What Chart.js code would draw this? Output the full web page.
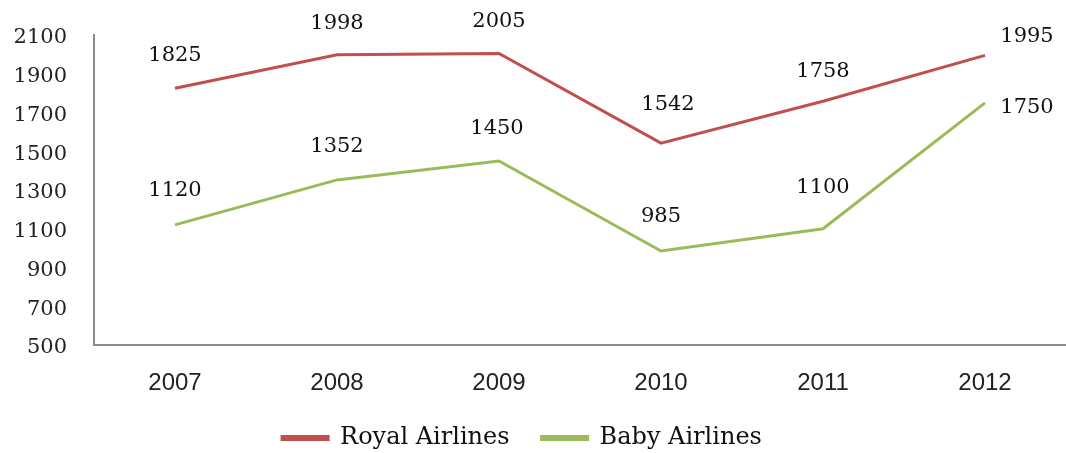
<!DOCTYPE html>
<html>
<head>
<meta charset="utf-8">
<script src="https://cdn.jsdelivr.net/npm/chart.js@4"></script>
<style>
html,body{margin:0;padding:0;background:#fff;}
#wrap{width:1066px;height:453px;position:relative;}
</style>
</head>
<body>
<div id="wrap"><canvas id="c" width="1066" height="453"></canvas></div>
<script>
const categories = ["2007", "2008", "2009", "2010", "2011", "2012"];
const royalAirlines = [1825, 1998, 2005, 1542, 1758, 1995];
const babyAirlines = [1120, 1352, 1450, 985, 1100, 1750];
const yTicks = [500, 700, 900, 1100, 1300, 1500, 1700, 1900, 2100];

const serif = "'DejaVu Serif', serif";
const sans = "'Liberation Sans', Arial, sans-serif";

// label placement relative to each point (styling only)
const labelOffsets = [
  [[0,-33],[0,-31],[0,-32],[7,-39],[0,-30],[42,-19]],
  [[0,-34],[0,-33],[-2,-32],[0,-34],[0,-41],[42,5]]
];

const dataLabels = {
  id: 'dataLabels',
  afterDatasetsDraw(chart) {
    const ctx = chart.ctx;
    ctx.save();
    ctx.font = "21px " + serif;
    ctx.fillStyle = "#111";
    ctx.textAlign = "center";
    ctx.textBaseline = "middle";
    chart.data.datasets.forEach((ds, di) => {
      const meta = chart.getDatasetMeta(di);
      meta.data.forEach((pt, i) => {
        const off = labelOffsets[di][i];
        ctx.fillText(String(ds.data[i]), pt.x + off[0], pt.y + off[1]);
      });
    });
    ctx.restore();
  }
};

const legendShift = {
  id: 'legendShift',
  afterLayout(chart) {
    if (chart.legend) { chart.legend.left -= 13; chart.legend.right -= 13; }
  }
};

new Chart(document.getElementById('c'), {
  type: 'line',
  data: {
    labels: categories,
    datasets: [
      { label: 'Royal Airlines', data: royalAirlines, borderColor: '#c0504d', backgroundColor: '#c0504d', borderWidth: 3, pointRadius: 0, tension: 0 },
      { label: 'Baby Airlines', data: babyAirlines, borderColor: '#9bbb59', backgroundColor: '#9bbb59', borderWidth: 3, pointRadius: 0, tension: 0 }
    ]
  },
  options: {
    responsive: false,
    animation: false,
    layout: { padding: { top: 35, right: -4, left: 0, bottom: 0 } },
    plugins: {
      legend: {
        position: 'bottom',
        maxHeight: 59,
        labels: {
          boxWidth: 46, boxHeight: 3, padding: 32,
          color: '#111',
          font: { family: serif, size: 24 }
        }
      },
      tooltip: { enabled: false }
    },
    scales: {
      x: {
        offset: true,
        grid: { display: false, drawTicks: false },
        border: { display: true, color: '#8c8c8c', width: 2 },
        ticks: { color: '#222', padding: 24, font: { family: sans, size: 24 } },
        afterFit(s) { s.height = 49; s.paddingLeft = 0; s.paddingRight = -4; }
      },
      y: {
        min: 500, max: 2100,
        afterBuildTicks(s) { s.ticks = yTicks.map(v => ({ value: v })); },
        grid: { display: false, drawTicks: false },
        border: { display: true, color: '#8c8c8c', width: 2 },
        ticks: { color: '#222', padding: 27, labelOffset: 3, font: { family: serif, size: 21 }, callback: v => String(v) },
        afterFit(s) { s.width = 94; s.paddingTop = 0; s.paddingBottom = 0; s.paddingLeft = 0; s.paddingRight = -4; }
      }
    }
  },
  plugins: [dataLabels, legendShift]
});
</script>
</body>
</html>
